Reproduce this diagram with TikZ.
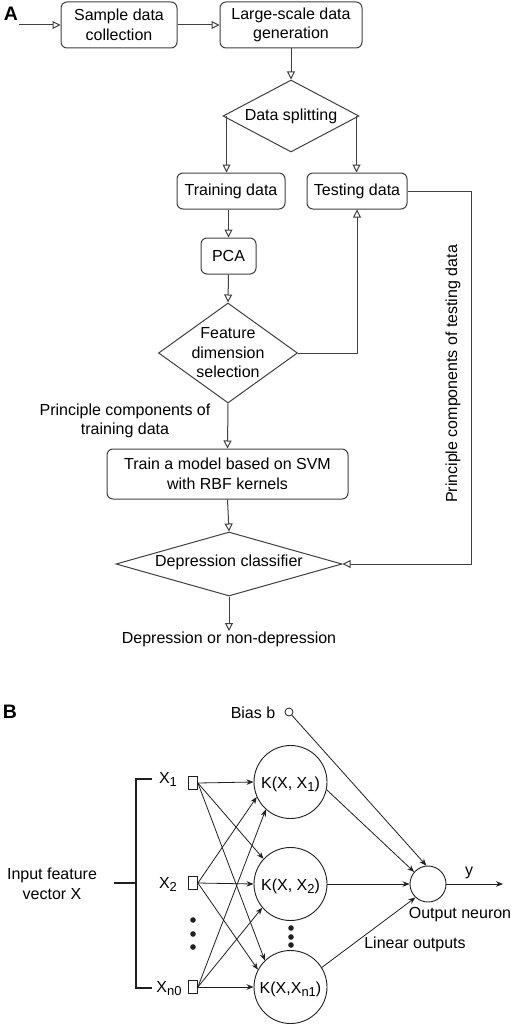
\documentclass[tikz,border=0pt]{standalone}
\usepackage{fontspec}
\setmainfont{Liberation Sans}
\usetikzlibrary{arrows.meta,shapes.geometric,calc}
\definecolor{lc}{HTML}{404040}
\definecolor{lb}{HTML}{202020}
\newcommand{\mysub}[1]{\raisebox{-3pt}{\fontsize{13}{13}\selectfont #1}}
\begin{document}
\begin{tikzpicture}[x=1pt,y=-1pt,
  font=\fontsize{16}{19.5}\selectfont,
  txt/.style={text=black, inner sep=1pt},
  arr/.style={draw=lc, line width=1pt, -{Triangle[open,length=8pt,width=8pt]}},
  box/.style={draw=lc, line width=1pt, rounded corners=6pt, fill=white, align=center, inner sep=0pt},
  dia/.style={draw=lc, line width=1pt, diamond, inner sep=0pt, fill=white},
  barr/.style={draw=lb, line width=0.8pt, -{Stealth[length=7pt,width=5.5pt]}},
  kern/.style={circle, draw=lb, line width=0.9pt, minimum size=73pt, inner sep=0pt, text height=13pt, text depth=0pt},
  sq/.style={draw=lb, line width=0.8pt, minimum width=9pt, minimum height=13pt, inner sep=0pt},
  brk/.style={draw=lb, line width=1.8pt},
  panel/.style={font=\fontsize{19.5}{20}\selectfont\bfseries, inner sep=0pt}
]
\useasboundingbox (0,0) rectangle (512,1025);
\fill[white] (0,0) rectangle (512,1025);

% ---------------- Panel A ----------------
\node[panel] (labA) at (11,14) {A};

\node[box, minimum width=116pt, minimum height=46pt] (sample) at (119,25) {Sample data\\collection};
\node[box, minimum width=142pt, minimum height=46pt] (large) at (291,25) {Large-scale data\\generation};
\node[dia, minimum width=136pt, minimum height=72pt] (ds) at (291,116) {};
\node[txt] (dst) at (ds) {Data splitting};
\node[box, minimum width=108pt, minimum height=36pt] (train) at (231,191) {Training data};
\node[box, minimum width=100pt, minimum height=36pt] (test) at (357,191) {Testing data};
\node[box, minimum width=55pt, minimum height=36pt] (pca) at (228.5,256) {PCA};
\node[dia, minimum width=139pt, minimum height=100pt] (fd) at (228,353) {};
\node[txt, align=center] (fdt) at (fd) {Feature\\dimension\\selection};
\node[box, minimum width=241pt, minimum height=50pt] (svm) at (227.5,474) {Train a model based on SVM\\with RBF kernels};
\node[dia, minimum width=226pt, minimum height=64pt] (dc) at (229,564) {};
\node[txt] (dct) at (229,562) {Depression classifier};
\node[txt, anchor=north] (res) at (229,631) {Depression or non-depression};
\node[txt, align=center] (pctr) at (125,421) {Principle components of\\training data};
\node[txt, rotate=90] (pcte) at (453,374) {Principle components of testing data};

\coordinate (in) at (19,25);
\coordinate (rc) at (471,191);
\draw[arr] (in) -- (sample.west);
\draw[arr] (sample.east) -- (large.west);
\draw[arr] (large.south) -- (ds.north);
\draw[arr] ([xshift=4pt]ds.west) -- ([xshift=4pt]ds.west |- train.north);
\draw[arr] ([xshift=-3pt]ds.east) -- ([xshift=-3pt]ds.east |- test.north);
\draw[arr] (pca.north |- train.south) -- (pca.north);
\draw[arr] (pca.south) -- (fd.north);
\draw[arr] (fd.east) -| (test.south);
\draw[arr] (fd.south) -- (svm.north);
\draw[arr] (svm.south) -- (dc.north);
\draw[arr] (test.east) -- (rc) |- (dc.east);
\draw[arr] (dc.south) -- (res.north);

% ---------------- Panel B ----------------
\node[panel] (labB) at (10,712) {B};

\node[txt] (biast) at (253,713) {Bias b};
\node[circle, draw=lb, line width=0.8pt, minimum size=8pt, inner sep=0pt] (bias) at (289,712) {};

\node[kern] (k1) at (290.5,782) {K(X, X\mysub{1})};
\node[kern] (k2) at (290.5,884) {K(X, X\mysub{2})};
\node[kern] (k3) at (290.5,987) {K(X,X\mysub{n1})};

\node[circle, draw=lb, line width=0.9pt, minimum size=36pt, inner sep=0pt] (on) at (428,884) {};
\coordinate (yend) at (503,884);
\node[txt] (ylab) at (469,873) {y};
\node[txt] (onl) at (460,915) {Output neuron};
\node[txt] (lol) at (415,944) {Linear outputs};

\node[sq] (s1) at (193,783) {};
\node[sq] (s2) at (193,883) {};
\node[sq] (s3) at (193,987) {};
\node[txt, anchor=base] (x1l) at (168,783.5) {X\mysub{1}};
\node[txt, anchor=base] (x2l) at (168,888) {X\mysub{2}};
\node[txt, anchor=base] (x3l) at (169,992) {X\mysub{n0}};

\node[txt, align=center] (ifv) at (52,884) {Input feature\\vector X};

\coordinate (b1) at (152,779);
\coordinate (b2) at (136,779);
\coordinate (b3) at (136,988);
\coordinate (b4) at (152,988);
\coordinate (b5) at (114,883);
\coordinate (b6) at (136,883);
\draw[brk] (b1) -- (b2) -- (b3) -- (b4);
\draw[brk] (b5) -- (b6);

\fill[lb] (193,920) circle (2.8) (193,934) circle (2.8) (193,947) circle (2.8);
\fill[lb] (291,928) circle (2.8) (291,937) circle (2.8) (291,945) circle (2.8);

\draw[barr] (s1.east) -- (k1.west);
\draw[barr] (s1.east) -- (k2.137);
\draw[barr] (s1.east) -- (k3.134);
\draw[barr] (s2.east) -- (k1.204);
\draw[barr] (s2.east) -- (k2.west);
\draw[barr] (s2.east) -- (k3.152);
\draw[barr] (s3.east) -- (k1.228);
\draw[barr] (s3.east) -- (k2.220);
\draw[barr] (s3.east) -- (k3.west);

\draw[barr] (bias) -- (on.95);
\draw[barr] (k1.-12) -- (on.139);
\draw[barr] (k2.east) -- (on.west);
\draw[barr] (k3.32) -- (on.227);
\draw[barr] (on.east) -- (yend);
\end{tikzpicture}
\end{document}
